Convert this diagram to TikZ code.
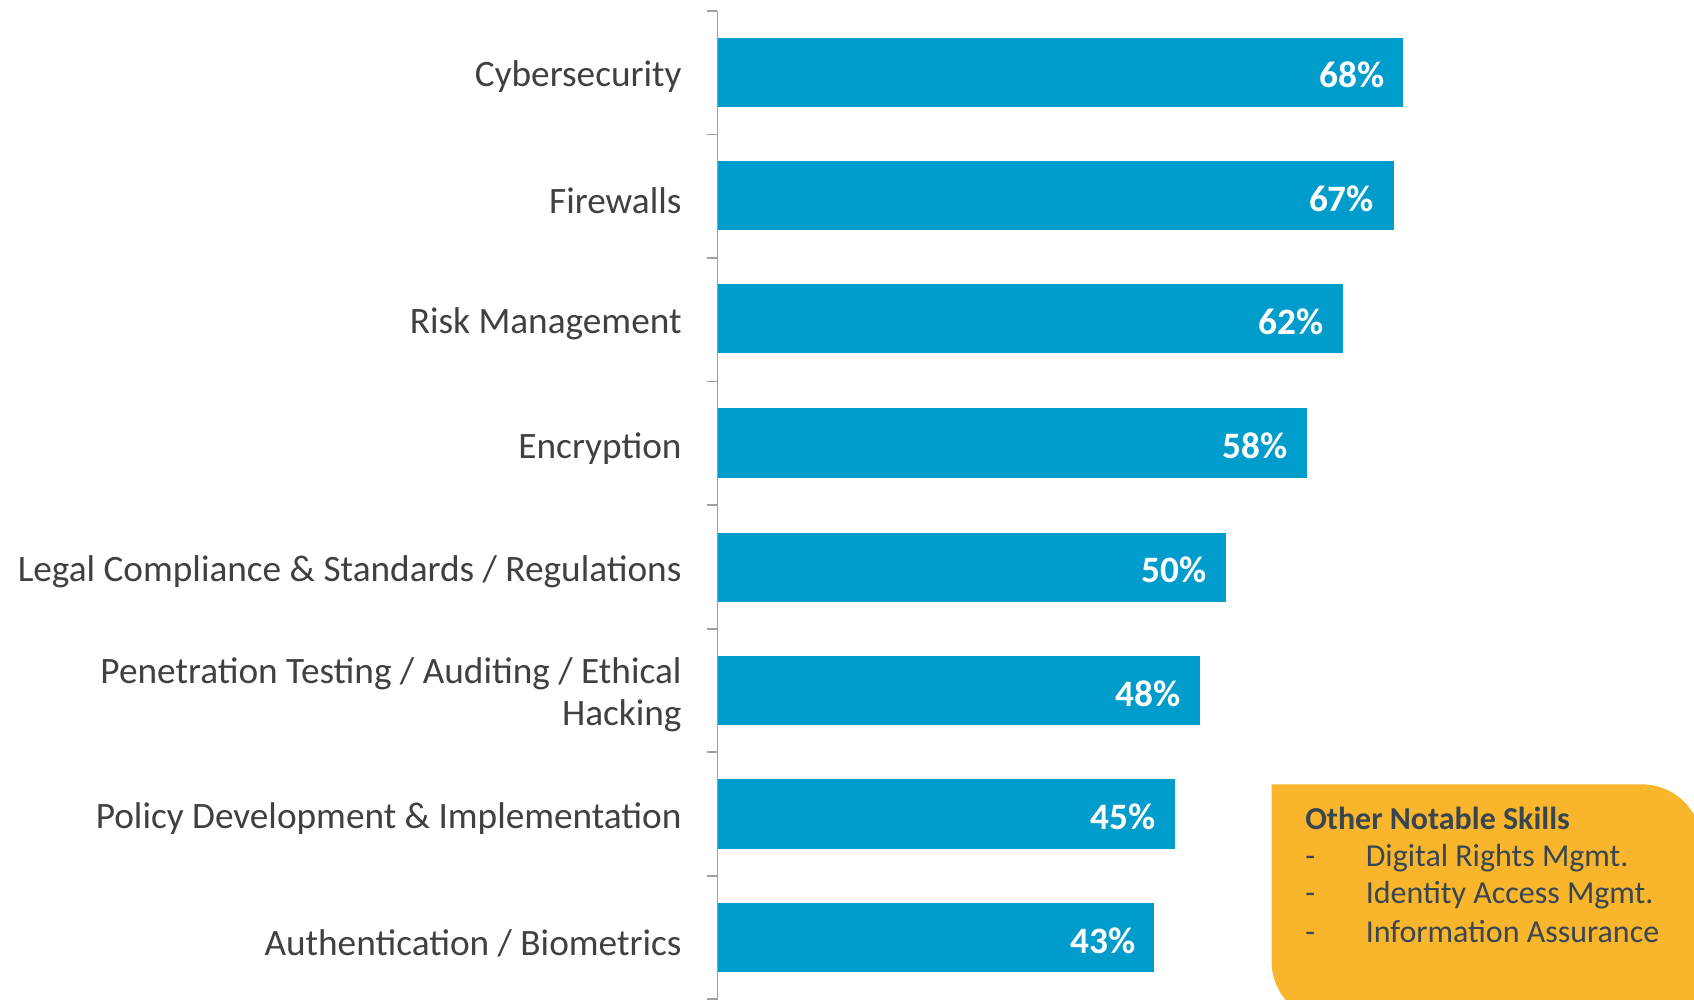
\documentclass[tikz,border=0pt]{standalone}
\usepackage{fontspec}
\setmainfont{Carlito}
\definecolor{barblue}{RGB}{0,157,204}
\definecolor{labelgray}{RGB}{64,64,64}
\definecolor{axisgray}{RGB}{160,160,160}
\definecolor{boxorange}{RGB}{249,181,44}
\definecolor{boxtext}{RGB}{55,70,80}
\begin{document}
\begin{tikzpicture}[x=1pt,y=-1pt,
  bar/.style={fill=barblue,draw=none},
  lbl/.style={anchor=east,text=labelgray,font=\fontsize{34.5}{39}\selectfont,align=right,inner sep=0pt},
  val/.style={anchor=east,text=white,font=\fontsize{34.5}{39}\selectfont\bfseries,inner sep=0pt},
  boxtxt/.style={anchor=base west,text=boxtext,font=\fontsize{29.6}{34}\selectfont,inner sep=0pt},
  axisline/.style={draw=axisgray,line width=1.6pt}]
\useasboundingbox (0,0) rectangle (1568,925);
\begin{scope}
\clip (0,0) rectangle (1568,925);
% orange box
\fill[boxorange] (1177,726) -- (1520,726) arc[start angle=270,end angle=360,radius=55] -- (1575,945) -- (1232,945) arc[start angle=90,end angle=180,radius=55] -- cycle;
% axis
\draw[axisline] (664,10) -- (664,930);
\foreach \yy in {10,124.4,238.8,353.1,467.5,581.9,696.3,810.6,925}
  \draw[axisline] (654,\yy) -- (664,\yy);
\end{scope}
% bars
\fill[bar] (665,35) rectangle (1299,99);
\fill[bar] (665,149) rectangle (1290,213);
\fill[bar] (665,263) rectangle (1243,327);
\fill[bar] (665,378) rectangle (1210,442);
\fill[bar] (665,493) rectangle (1135,557);
\fill[bar] (665,607) rectangle (1111,671);
\fill[bar] (665,721) rectangle (1088,786);
\fill[bar] (665,836) rectangle (1068,900);
% values
\node[val] (v1) at (1282,69) {68\%};
\node[val] (v2) at (1272,184) {67\%};
\node[val] (v3) at (1225,298) {62\%};
\node[val] (v4) at (1192,413) {58\%};
\node[val] (v5) at (1117,527) {50\%};
\node[val] (v6) at (1093,642) {48\%};
\node[val] (v7) at (1070,756) {45\%};
\node[val] (v8) at (1051,871) {43\%};
% labels
\node[lbl] (l1) at (631,71) {Cybersecurity};
\node[lbl] (l2) at (631,186) {Firewalls};
\node[lbl] (l3) at (631,300) {Risk Management};
\node[lbl] (l4) at (631,415) {Encryption};
\node[lbl] (l5) at (631,529) {Legal Compliance \& Standards / Regulations};
\node[lbl] (l6) at (631,643) {Penetration Testing / Auditing / Ethical\\Hacking};
\node[lbl] (l7) at (631,758) {Policy Development \& Implementation};
\node[lbl] (l8) at (631,873) {Authentication / Biometrics};
% box text
\node[boxtxt,font=\fontsize{29.6}{34}\selectfont\bfseries] (bt) at (1208,768) {Other Notable Skills};
\node[boxtxt] (d1) at (1208,802) {-};
\node[boxtxt] (b1) at (1264,802) {Digital Rights Mgmt.};
\node[boxtxt] (d2) at (1208,836) {-};
\node[boxtxt] (b2) at (1264,836) {Identity Access Mgmt.};
\node[boxtxt] (d3) at (1208,872) {-};
\node[boxtxt] (b3) at (1264,872) {Information Assurance};
\end{tikzpicture}
\end{document}
